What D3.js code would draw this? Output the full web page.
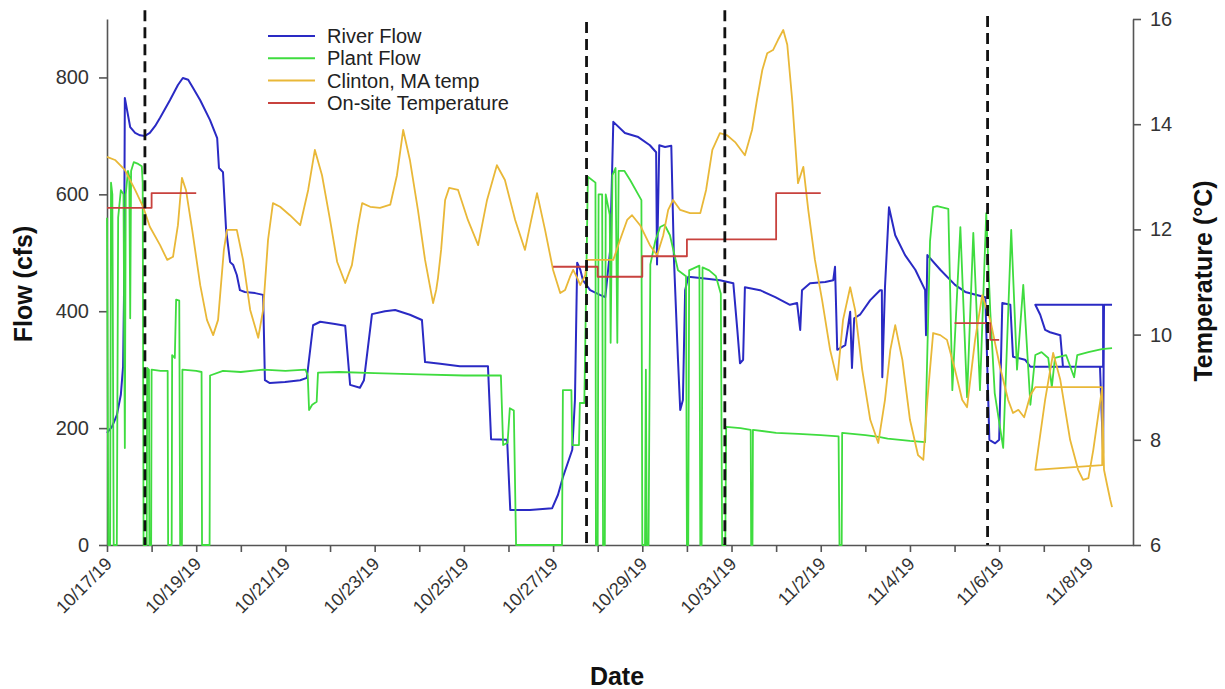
<!DOCTYPE html>
<html>
<head>
<meta charset="utf-8">
<script src="https://cdn.jsdelivr.net/npm/d3@7"></script>
<style>
  body { margin: 0; background: #fff; }
  text { font-family: "Liberation Sans", Arial, sans-serif; }
</style>
</head>
<body>
<svg id="chart" width="1225" height="689"></svg>
<script>
// Time axis: days counted from 10/17/19 00:00
const startDate = Date.UTC(2019, 9, 17);
const endDate = Date.UTC(2019, 10, 9);

const flowTicks = [0, 200, 400, 600, 800];
const tempTicks = [6, 8, 10, 12, 14, 16];
const dateLabels = ["10/17/19", "10/19/19", "10/21/19", "10/23/19", "10/25/19", "10/27/19",
                    "10/29/19", "10/31/19", "11/2/19", "11/4/19", "11/6/19", "11/8/19"];

const seriesNames = ["River Flow", "Plant Flow", "Clinton, MA temp", "On-site Temperature"];
const seriesColors = ["#2a2ac4", "#3fdc3f", "#e9b838", "#c8423e"];

// River flow (cfs): [day, value]
const riverFlow = [
  [0,192],[0.11,202],[0.22,222],[0.31,257],[0.36,305],[0.38,419],[0.40,765],[0.45,744],[0.52,715],
  [0.63,705],[0.74,701],[0.85,700],[0.96,705],[1.08,717],[1.19,731],[1.41,761],[1.59,787],[1.70,799],
  [1.82,796],[1.93,782],[2.09,761],[2.31,727],[2.47,696],[2.51,645],[2.60,638],[2.67,539],[2.76,484],
  [2.83,479],[2.91,462],[2.98,436],[3.09,433],[3.32,431],[3.50,428],[3.54,282],[3.65,277],[3.99,279],
  [4.33,282],[4.48,286],[4.62,376],[4.78,382],[5.11,378],[5.34,375],[5.45,274],[5.67,269],[5.76,282],
  [5.94,395],[6.23,400],[6.46,402],[6.79,394],[7.06,385],[7.13,313],[7.47,310],[7.91,306],[8.54,306],
  [8.61,181],[8.97,180],[9.04,60],[9.48,60],[9.98,63],[10.11,86],[10.22,116],[10.43,163],[10.49,248],
  [10.54,483],[10.61,471],[10.67,453],[10.83,436],[11.05,428],[11.17,424],[11.28,505],[11.35,724],
  [11.61,705],[11.91,698],[12.17,684],[12.31,672],[12.33,480],[12.38,684],[12.51,681],[12.65,683],
  [12.71,488],[12.80,317],[12.85,231],[12.91,248],[12.96,436],[13.03,459],[13.30,457],[13.74,453],
  [14.04,448],[14.13,368],[14.19,311],[14.26,317],[14.30,441],[14.64,436],[14.98,424],[15.31,411],
  [15.47,414],[15.54,368],[15.58,436],[15.76,448],[16.10,450],[16.28,453],[16.32,476],[16.37,334],
  [16.55,342],[16.66,399],[16.70,303],[16.75,388],[16.88,394],[17.11,419],[17.33,436],[17.37,436],
  [17.38,287],[17.44,441],[17.53,578],[17.67,530],[17.89,496],[18.12,471],[18.34,436],[18.36,359],
  [18.39,496],[18.68,471],[19.01,445],[19.24,433],[19.69,424],[19.78,180],[19.91,174],[20.00,180],
  [20.07,414],[20.25,411],[20.31,322],[20.58,317],[20.70,305],[22.33,305],[22.33,411],[20.81,411],
  [20.92,394],[21.03,368],[21.14,364],[21.37,359],[21.43,305],[22.26,305],[22.33,157],[22.35,411],
  [22.53,411]
];

// Treatment plant flow (cfs): [day, value]
const plantFlow = [
  [0,560],[0.03,0],[0.07,0],[0.09,620],[0.12,600],[0.15,0],[0.22,0],[0.25,560],[0.31,607],[0.37,600],
  [0.40,166],[0.42,600],[0.47,640],[0.50,630],[0.52,388],[0.54,640],[0.60,655],[0.70,652],[0.78,648],
  [0.80,620],[0.82,0],[0.89,0],[0.90,303],[0.94,300],[0.95,0],[0.99,0],[1.00,300],[1.20,298],[1.36,298],
  [1.37,0],[1.45,0],[1.46,325],[1.52,320],[1.55,420],[1.62,418],[1.64,0],[1.68,0],[1.69,300],[2.00,298],
  [2.12,296],[2.13,0],[2.30,0],[2.31,290],[2.60,298],[3.00,296],[3.50,300],[4.00,298],[4.45,300],
  [4.50,290],[4.53,231],[4.60,240],[4.70,245],[4.73,295],[5.20,296],[6.00,294],[7.00,292],[8.00,290],
  [8.83,290],[8.88,171],[8.98,175],[9.03,234],[9.12,230],[9.17,0],[10.20,0],[10.22,265],[10.41,265],
  [10.43,171],[10.58,171],[10.60,243],[10.70,243],[10.78,630],[10.95,620],[10.96,0],[11.00,0],[11.02,600],
  [11.10,600],[11.12,0],[11.16,0],[11.18,600],[11.27,565],[11.29,346],[11.33,633],[11.40,645],[11.44,346],
  [11.47,640],[11.60,640],[11.73,624],[11.98,590],[12.00,0],[12.06,0],[12.08,300],[12.10,0],[12.14,0],
  [12.18,480],[12.29,520],[12.40,544],[12.50,548],[12.62,530],[12.80,470],[12.98,460],[13.00,0],[13.03,0],
  [13.05,470],[13.28,478],[13.30,0],[13.33,0],[13.35,475],[13.50,470],[13.65,460],[13.76,430],[13.79,0],
  [13.86,0],[13.88,202],[14.20,200],[14.43,197],[14.44,0],[14.47,0],[14.48,197],[15.00,192],[15.50,190],
  [16.00,188],[16.40,186],[16.42,0],[16.47,0],[16.48,192],[17.00,188],[17.30,185],[17.50,182],[18.00,178],
  [18.34,176],[18.38,300],[18.45,520],[18.52,578],[18.61,580],[18.86,575],[18.95,265],[19.13,544],
  [19.28,253],[19.42,534],[19.57,265],[19.71,568],[19.80,400],[19.90,260],[20.09,166],[20.27,539],
  [20.40,300],[20.54,445],[20.70,240],[20.81,325],[20.95,330],[21.10,320],[21.18,270],[21.25,320],
  [21.50,325],[21.68,287],[21.75,325],[22.00,330],[22.30,335],[22.53,337]
];

// Clinton, MA air temperature (°C): [day, value]
const clintonTemp = [
  [0,13.38],[0.18,13.32],[0.40,13.13],[0.63,12.75],[0.81,12.43],[0.96,12.05],[1.19,11.70],[1.35,11.42],
  [1.48,11.48],[1.59,12.08],[1.68,12.98],[1.77,12.75],[1.91,11.99],[2.09,10.94],[2.24,10.28],[2.38,9.99],
  [2.49,10.28],[2.62,11.61],[2.69,11.99],[2.91,11.99],[3.05,11.42],[3.21,10.47],[3.39,9.94],[3.50,10.47],
  [3.61,11.80],[3.72,12.50],[3.88,12.43],[4.10,12.27],[4.33,12.08],[4.51,12.75],[4.66,13.51],[4.82,13.03],
  [5.00,12.18],[5.16,11.38],[5.34,10.98],[5.49,11.32],[5.63,12.08],[5.72,12.50],[5.90,12.43],[6.12,12.41],
  [6.35,12.47],[6.50,13.03],[6.64,13.89],[6.79,13.32],[6.97,12.37],[7.13,11.42],[7.31,10.60],[7.38,10.85],
  [7.42,11.08],[7.49,11.61],[7.58,12.56],[7.67,12.79],[7.87,12.75],[8.09,12.18],[8.32,11.70],[8.52,12.56],
  [8.74,13.22],[8.92,12.94],[9.15,12.18],[9.37,11.61],[9.51,12.18],[9.64,12.69],[9.82,11.99],[10.00,11.23],
  [10.16,10.79],[10.27,10.85],[10.38,11.10],[10.45,11.23],[10.54,11.08],[10.61,10.94],[10.72,11.13],
  [10.76,11.42],[11.35,11.42],[11.50,11.80],[11.66,12.18],[11.77,12.27],[11.95,12.08],[12.17,11.70],
  [12.33,11.51],[12.47,11.89],[12.58,12.37],[12.69,12.56],[12.85,12.37],[13.07,12.31],[13.30,12.31],
  [13.43,12.75],[13.57,13.51],[13.74,13.83],[13.90,13.79],[14.08,13.66],[14.30,13.41],[14.46,13.89],
  [14.57,14.46],[14.69,15.03],[14.80,15.35],[14.93,15.41],[15.04,15.60],[15.16,15.79],[15.25,15.51],
  [15.36,14.46],[15.49,12.88],[15.61,13.19],[15.72,12.37],[15.87,11.42],[16.03,10.66],[16.21,9.71],
  [16.37,9.14],[16.50,10.28],[16.66,10.90],[16.77,10.47],[16.93,9.33],[17.11,8.38],[17.29,7.94],
  [17.44,8.76],[17.56,9.71],[17.67,10.18],[17.83,9.52],[18.00,8.38],[18.18,7.71],[18.30,7.62],[18.39,8.76],
  [18.52,10.03],[18.68,9.99],[18.83,9.90],[19.01,9.33],[19.17,8.76],[19.28,8.62],[19.46,9.90],[19.62,10.75],
  [19.80,10.28],[20.02,9.38],[20.20,8.76],[20.31,8.51],[20.43,8.57],[20.56,8.43],[20.70,8.85],[20.81,9.00],
  [22.31,9.00],[22.31,7.52],[20.81,7.43],[21.03,8.76],[21.21,9.65],[21.37,9.14],[21.59,8.00],[21.77,7.43],
  [21.88,7.24],[22.00,7.27],[22.11,7.81],[22.31,9.00],[22.35,7.43],[22.42,7.14],[22.49,6.86],[22.53,6.72]
];

// On-site daily water temperature (°C); null ends a run of readings
const onsiteDay  = [0,     1,     2,     2,    10,    11,    12,    13,    15,    16,    16,   19,    19.8, 20];
const onsiteTemp = [12.41, 12.69, 12.69, null, 11.29, 11.10, 11.49, 11.81, 12.69, 12.69, null, 10.22, 9.90, 9.90];

// Sampling events (dashed markers): day and top end in cfs
const eventDays = [0.85, 10.75, 13.85, 19.74];
const eventTops = [915, 895, 915, 905];

// ---------------------------------------------------------------------------
const svg = d3.select("#chart");
const plotLeft = 107, plotRight = 1133, plotTop = 19, plotBottom = 545;
const dayMs = 864e5;
const toDate = d => new Date(startDate + d * dayMs);

const x = d3.scaleUtc().domain([new Date(startDate), new Date(endDate)]).range([plotLeft, plotRight]);
const yFlow = d3.scaleLinear().domain([0, 900]).range([plotBottom, plotTop]);
const yTemp = d3.scaleLinear().domain([6, 16]).range([plotBottom, plotTop]);

const axisColor = "#555";
const labelColor = "#333";

// X axis: a tick every day, labels every other day
const dayTicks = d3.utcDay.range(new Date(startDate), new Date(endDate));
const xAxis = svg.append("g")
  .attr("transform", `translate(0,${plotBottom})`)
  .call(d3.axisBottom(x).tickValues(dayTicks).tickSize(7).tickSizeOuter(0).tickFormat(""));
xAxis.selectAll("path,line").attr("stroke", axisColor).attr("stroke-width", 1.6);
svg.append("g").selectAll("text")
  .data(dateLabels)
  .join("text")
  .attr("transform", (d, i) => `translate(${x(dayTicks[i * 2]) + 6},${plotBottom + 20}) rotate(-45)`)
  .attr("text-anchor", "end")
  .attr("font-size", 18)
  .attr("fill", labelColor)
  .text(d => d);

// Left axis: flow
const yAxisL = svg.append("g")
  .attr("transform", `translate(${plotLeft},0)`)
  .call(d3.axisLeft(yFlow).tickValues(flowTicks).tickSize(8).tickPadding(10).tickSizeOuter(0));
yAxisL.selectAll("path,line").attr("stroke", axisColor).attr("stroke-width", 1.6);
yAxisL.selectAll("text").attr("font-size", 20).attr("fill", labelColor)
  .style("font-family", '"Liberation Sans", Arial, sans-serif');

// Right axis: temperature
const yAxisR = svg.append("g")
  .attr("transform", `translate(${plotRight},0)`)
  .call(d3.axisRight(yTemp).tickValues(tempTicks).tickSize(8).tickPadding(9).tickSizeOuter(0));
yAxisR.selectAll("path,line").attr("stroke", axisColor).attr("stroke-width", 1.6);
yAxisR.selectAll("text").attr("font-size", 20).attr("fill", labelColor)
  .style("font-family", '"Liberation Sans", Arial, sans-serif');

// Axis titles
svg.append("text")
  .attr("transform", `translate(32,284) rotate(-90)`)
  .attr("text-anchor", "middle").attr("font-size", 25).attr("font-weight", "bold").attr("fill", "#111")
  .text("Flow (cfs)");
svg.append("text")
  .attr("transform", `translate(1212,281) rotate(-90)`)
  .attr("text-anchor", "middle").attr("font-size", 25).attr("font-weight", "bold").attr("fill", "#111")
  .text("Temperature (°C)");
svg.append("text")
  .attr("x", 617).attr("y", 685)
  .attr("text-anchor", "middle").attr("font-size", 25).attr("font-weight", "bold").attr("fill", "#111")
  .text("Date");

// Series lines
const flowLine = d3.line().x(d => x(toDate(d[0]))).y(d => yFlow(d[1]));
const tempLine = d3.line().x(d => x(toDate(d[0]))).y(d => yTemp(d[1]));

const plot = svg.append("g").attr("fill", "none").attr("stroke-linejoin", "round");
plot.append("path").attr("d", flowLine(riverFlow)).attr("stroke", seriesColors[0]).attr("stroke-width", 2);
plot.append("path").attr("d", flowLine(plantFlow)).attr("stroke", seriesColors[1]).attr("stroke-width", 1.8);
plot.append("path").attr("d", tempLine(clintonTemp)).attr("stroke", seriesColors[2]).attr("stroke-width", 1.8);

const onsite = onsiteDay.map((d, i) => [d, onsiteTemp[i]]);
const stepLine = d3.line()
  .defined(d => d[1] != null)
  .curve(d3.curveStepAfter)
  .x(d => x(toDate(d[0]))).y(d => yTemp(d[1]));
plot.append("path").attr("d", stepLine(onsite)).attr("stroke", seriesColors[3]).attr("stroke-width", 1.8);

// Dashed event markers
svg.append("g").selectAll("line")
  .data(eventDays)
  .join("line")
  .attr("x1", d => x(toDate(d))).attr("x2", d => x(toDate(d)))
  .attr("y1", (d, i) => yFlow(eventTops[i])).attr("y2", yFlow(0))
  .attr("stroke", "#111").attr("stroke-width", 2.8).attr("stroke-dasharray", "11,6");

// Legend
const legend = svg.append("g").attr("transform", "translate(268,36)");
seriesNames.forEach((name, i) => {
  const g = legend.append("g").attr("transform", `translate(0,${i * 22.3})`);
  g.append("line").attr("x1", 0).attr("x2", 47).attr("y1", 0).attr("y2", 0)
    .attr("stroke", seriesColors[i]).attr("stroke-width", 2);
  g.append("text").attr("x", 59).attr("y", 7).attr("font-size", 20).attr("fill", "#222").text(name);
});
</script>
</body>
</html>
